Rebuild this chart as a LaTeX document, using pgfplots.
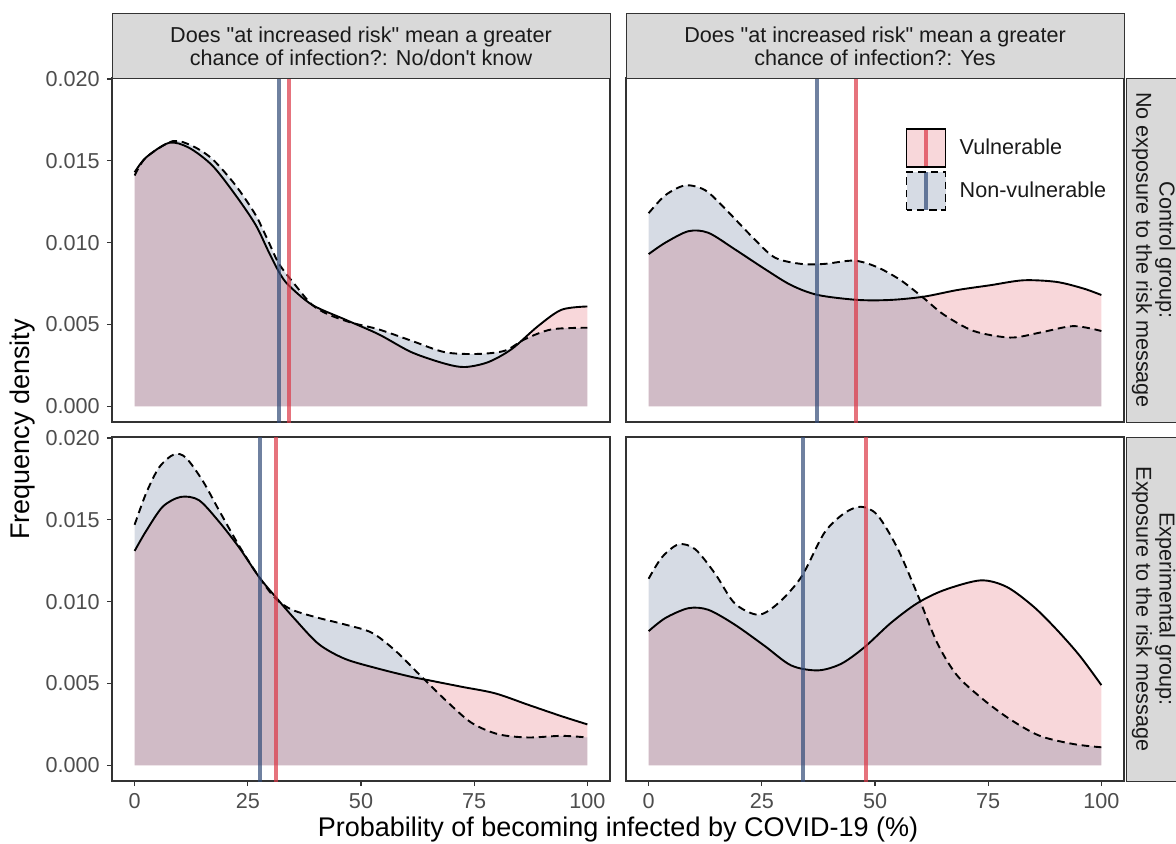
\documentclass[border=0pt]{standalone}
\usepackage{fontspec}
\setmainfont{Liberation Sans}
\usepackage{pgfplots}
\pgfplotsset{compat=1.18}
\definecolor{vcol}{HTML}{DC3746}
\definecolor{ncol}{HTML}{324B78}
\definecolor{framec}{HTML}{333333}
\definecolor{tickc}{HTML}{4D4D4D}
\definecolor{stripc}{HTML}{D9D9D9}
\definecolor{stript}{HTML}{1A1A1A}

\pgfplotsset{
  panel/.style={
    scale only axis, width=249pt, height=172pt,
    xmin=-5, xmax=105, ymin=-0.00096, ymax=0.02006,
    axis line style={draw=framec, line width=0.6pt},
    tick style={draw=framec, line width=0.6pt},
    tick align=outside, major tick length=2.6pt,
    xtick={0,25,50,75,100}, xticklabels={0,25,50,75,100},
    ytick={0,0.005,0.01,0.015,0.02},
    yticklabels={0.000,0.005,0.010,0.015,0.020},
    scaled y ticks=false, scaled x ticks=false,
    xtick pos=left, ytick pos=left,
    tick label style={font=\fontsize{10.8}{12}\selectfont, text=tickc},
    anchor=south west,
  },
  vfill/.style={draw=none, fill=vcol, fill opacity=0.2, smooth, forget plot},
  nfill/.style={draw=none, fill=ncol, fill opacity=0.2, smooth, forget plot},
  vcurve/.style={black, line width=0.95pt, smooth, forget plot},
  ncurve/.style={black, line width=0.95pt, smooth, dash pattern=on 3.8pt off 2.4pt, forget plot},
  vmean/.style={vcol, opacity=0.7, line width=2pt, forget plot},
  nmean/.style={ncol, opacity=0.7, line width=2pt, forget plot},
}

\begin{document}
\begin{tikzpicture}
\useasboundingbox (0,0) rectangle (588pt,421.5pt);

% ---------- top-left ----------
\begin{axis}[panel, at={(56pt,210.5pt)}, xtick=\empty]
\addplot[vfill] coordinates {(0,0.0143) (2.5,0.0152) (7.6,0.0161) (12,0.0158) (17.2,0.0147) (22.3,0.0129) (26.7,0.0111) (29.5,0.0095) (31.9,0.0082) (34,0.0074) (39.2,0.0062) (46.5,0.0053) (53.9,0.0044) (61.2,0.0033) (68.6,0.0026) (73,0.0024) (78.1,0.0027) (83.3,0.0035) (89.1,0.0049) (94.3,0.0059) (100,0.0061)} \closedcycle;
\addplot[nfill] coordinates {(0,0.0141) (2.5,0.0152) (8.4,0.0162) (12.8,0.0159) (17.2,0.0151) (22.3,0.0135) (26.7,0.0117) (29.5,0.0101) (31.9,0.0087) (35.5,0.0074) (39.2,0.0062) (42.9,0.0056) (48,0.0051) (53.9,0.0047) (61.2,0.0040) (68.6,0.0033) (75.9,0.0032) (81.8,0.0034) (86.2,0.0041) (92.1,0.0047) (100,0.0048)} \closedcycle;
\addplot[vcurve] coordinates {(0,0.0143) (2.5,0.0152) (7.6,0.0161) (12,0.0158) (17.2,0.0147) (22.3,0.0129) (26.7,0.0111) (29.5,0.0095) (31.9,0.0082) (34,0.0074) (39.2,0.0062) (46.5,0.0053) (53.9,0.0044) (61.2,0.0033) (68.6,0.0026) (73,0.0024) (78.1,0.0027) (83.3,0.0035) (89.1,0.0049) (94.3,0.0059) (100,0.0061)};
\addplot[ncurve] coordinates {(0,0.0141) (2.5,0.0152) (8.4,0.0162) (12.8,0.0159) (17.2,0.0151) (22.3,0.0135) (26.7,0.0117) (29.5,0.0101) (31.9,0.0087) (35.5,0.0074) (39.2,0.0062) (42.9,0.0056) (48,0.0051) (53.9,0.0047) (61.2,0.0040) (68.6,0.0033) (75.9,0.0032) (81.8,0.0034) (86.2,0.0041) (92.1,0.0047) (100,0.0048)};
\addplot[nmean] coordinates {(31.9,-0.002) (31.9,0.022)};
\addplot[vmean] coordinates {(34.1,-0.002) (34.1,0.022)};
\end{axis}

% ---------- top-right ----------
\begin{axis}[panel, at={(313pt,210.5pt)}, xtick=\empty, ytick=\empty,
  legend cell align=left,
  legend style={at={(axis description cs:0.562,0.8576)}, anchor=north west,
    draw=none, fill=none, inner sep=0pt, outer sep=0pt, row sep=0.4pt,
    nodes={inner sep=0pt, outer sep=0pt},
    font=\fontsize{10.8}{12}\selectfont, text=stript}]
\addlegendimage{legend image code/.code={
  \fill[vcol!20!white, draw=none] (0pt,-9.5pt) rectangle (19.5pt,9.5pt);
  \draw[vcol, opacity=0.7, line width=2pt] (9.75pt,-9.5pt) -- (9.75pt,9.5pt);
  \draw[black, line width=0.8pt, fill=none] (0pt,-9.5pt) rectangle (19.5pt,9.5pt);
  \path[draw=none, fill=none] (0pt,-9.5pt) rectangle (26.5pt,9.5pt);}}
\addlegendentry{Vulnerable}
\addlegendimage{legend image code/.code={
  \fill[ncol!20!white, draw=none] (0pt,-9.5pt) rectangle (19.5pt,9.5pt);
  \draw[ncol, opacity=0.7, line width=2pt] (9.75pt,-9.5pt) -- (9.75pt,9.5pt);
  \draw[black, line width=0.8pt, fill=none, dash pattern=on 3.8pt off 2.4pt] (0pt,-9.5pt) rectangle (19.5pt,9.5pt);
  \path[draw=none, fill=none] (0pt,-9.5pt) rectangle (26.5pt,9.5pt);}}
\addlegendentry{Non-vulnerable}
\addplot[vfill] coordinates {(0,0.0093) (3.7,0.0100) (8.8,0.0107) (13.2,0.0106) (19,0.0096) (25.6,0.0084) (31.5,0.0074) (37.4,0.0068) (46.2,0.0065) (53.5,0.0065) (60.8,0.0067) (68.1,0.0071) (75.5,0.0074) (82.8,0.0077) (90.1,0.0076) (96,0.0072) (100,0.0068)} \closedcycle;
\addplot[nfill] coordinates {(0,0.0118) (3.7,0.0129) (8.1,0.0135) (12.5,0.0132) (16.8,0.0121) (22.7,0.0104) (27.8,0.0091) (33.7,0.0087) (38.8,0.0087) (45.4,0.0089) (50.5,0.0085) (55.7,0.0077) (60.8,0.0066) (65.2,0.0056) (71.8,0.0046) (79.9,0.0042) (86.4,0.0045) (93.8,0.0049) (100,0.0046)} \closedcycle;
\addplot[vcurve] coordinates {(0,0.0093) (3.7,0.0100) (8.8,0.0107) (13.2,0.0106) (19,0.0096) (25.6,0.0084) (31.5,0.0074) (37.4,0.0068) (46.2,0.0065) (53.5,0.0065) (60.8,0.0067) (68.1,0.0071) (75.5,0.0074) (82.8,0.0077) (90.1,0.0076) (96,0.0072) (100,0.0068)};
\addplot[ncurve] coordinates {(0,0.0118) (3.7,0.0129) (8.1,0.0135) (12.5,0.0132) (16.8,0.0121) (22.7,0.0104) (27.8,0.0091) (33.7,0.0087) (38.8,0.0087) (45.4,0.0089) (50.5,0.0085) (55.7,0.0077) (60.8,0.0066) (65.2,0.0056) (71.8,0.0046) (79.9,0.0042) (86.4,0.0045) (93.8,0.0049) (100,0.0046)};
\addplot[nmean] coordinates {(37.1,-0.002) (37.1,0.022)};
\addplot[vmean] coordinates {(45.9,-0.002) (45.9,0.022)};
\end{axis}

% ---------- bottom-left ----------
\begin{axis}[panel, at={(56pt,31pt)}]
\addplot[vfill] coordinates {(0,0.0131) (2.5,0.0143) (6.2,0.0158) (10.2,0.0164) (14.2,0.0162) (18.6,0.0149) (23.1,0.0133) (27.5,0.0115) (31.1,0.0103) (35.5,0.0089) (40.7,0.0074) (46.5,0.0065) (53.9,0.0059) (61.2,0.0054) (64.9,0.0052) (72.2,0.0048) (79.6,0.0044) (86.9,0.0037) (94.3,0.0030) (100,0.0025)} \closedcycle;
\addplot[nfill] coordinates {(0,0.0147) (2.5,0.0166) (5.4,0.0182) (8.7,0.0190) (11.3,0.0188) (15,0.0174) (18.6,0.0156) (23.1,0.0134) (27.5,0.0115) (31.1,0.0102) (34.8,0.0095) (40.7,0.0090) (46.5,0.0086) (52.4,0.0081) (57.6,0.0070) (62.7,0.0056) (68.6,0.0040) (74.4,0.0026) (80.3,0.0019) (86.9,0.0017) (94.3,0.0018) (100,0.0017)} \closedcycle;
\addplot[vcurve] coordinates {(0,0.0131) (2.5,0.0143) (6.2,0.0158) (10.2,0.0164) (14.2,0.0162) (18.6,0.0149) (23.1,0.0133) (27.5,0.0115) (31.1,0.0103) (35.5,0.0089) (40.7,0.0074) (46.5,0.0065) (53.9,0.0059) (61.2,0.0054) (64.9,0.0052) (72.2,0.0048) (79.6,0.0044) (86.9,0.0037) (94.3,0.0030) (100,0.0025)};
\addplot[ncurve] coordinates {(0,0.0147) (2.5,0.0166) (5.4,0.0182) (8.7,0.0190) (11.3,0.0188) (15,0.0174) (18.6,0.0156) (23.1,0.0134) (27.5,0.0115) (31.1,0.0102) (34.8,0.0095) (40.7,0.0090) (46.5,0.0086) (52.4,0.0081) (57.6,0.0070) (62.7,0.0056) (68.6,0.0040) (74.4,0.0026) (80.3,0.0019) (86.9,0.0017) (94.3,0.0018) (100,0.0017)};
\addplot[nmean] coordinates {(27.6,-0.002) (27.6,0.022)};
\addplot[vmean] coordinates {(31.3,-0.002) (31.3,0.022)};
\end{axis}

% ---------- bottom-right ----------
\begin{axis}[panel, at={(313pt,31pt)}, ytick=\empty]
\addplot[vfill] coordinates {(0,0.0082) (3.7,0.0090) (8.8,0.0096) (13.2,0.0095) (19,0.0086) (25.6,0.0073) (31.5,0.0061) (37.4,0.0058) (42.5,0.0062) (47.6,0.0072) (53.5,0.0087) (59.3,0.0099) (65.2,0.0107) (73.3,0.0113) (79.1,0.0109) (85,0.0097) (90.1,0.0083) (95.2,0.0067) (100,0.0049)} \closedcycle;
\addplot[nfill] coordinates {(0,0.0114) (2.9,0.0127) (6.6,0.0135) (10.3,0.0132) (14.7,0.0117) (19,0.0099) (24.2,0.0092) (28.6,0.0099) (33.7,0.0115) (38.8,0.0142) (43.2,0.0154) (46.9,0.0158) (50.5,0.0153) (54.9,0.0133) (59.3,0.0105) (63.7,0.0075) (68.1,0.0055) (74,0.0040) (79.9,0.0028) (86.4,0.0018) (93.8,0.0013) (100,0.0011)} \closedcycle;
\addplot[vcurve] coordinates {(0,0.0082) (3.7,0.0090) (8.8,0.0096) (13.2,0.0095) (19,0.0086) (25.6,0.0073) (31.5,0.0061) (37.4,0.0058) (42.5,0.0062) (47.6,0.0072) (53.5,0.0087) (59.3,0.0099) (65.2,0.0107) (73.3,0.0113) (79.1,0.0109) (85,0.0097) (90.1,0.0083) (95.2,0.0067) (100,0.0049)};
\addplot[ncurve] coordinates {(0,0.0114) (2.9,0.0127) (6.6,0.0135) (10.3,0.0132) (14.7,0.0117) (19,0.0099) (24.2,0.0092) (28.6,0.0099) (33.7,0.0115) (38.8,0.0142) (43.2,0.0154) (46.9,0.0158) (50.5,0.0153) (54.9,0.0133) (59.3,0.0105) (63.7,0.0075) (68.1,0.0055) (74,0.0040) (79.9,0.0028) (86.4,0.0018) (93.8,0.0013) (100,0.0011)};
\addplot[nmean] coordinates {(34.2,-0.002) (34.2,0.022)};
\addplot[vmean] coordinates {(48.0,-0.002) (48.0,0.022)};
\end{axis}

% ---------- strips ----------
\begin{scope}[every node/.style={font=\fontsize{10.8}{11.6}\selectfont, text=stript, align=center}]
\draw[framec, fill=stripc, line width=0.5pt] (56pt,382.5pt) rectangle (305pt,414.5pt);
\node at (180.5pt,398.5pt) {Does \textquotedbl at increased risk\textquotedbl\ mean a greater\\chance of infection?: No/don\textquotesingle t know};
\draw[framec, fill=stripc, line width=0.5pt] (313pt,382.5pt) rectangle (562pt,414.5pt);
\node at (437.5pt,398.5pt) {Does \textquotedbl at increased risk\textquotedbl\ mean a greater\\chance of infection?: Yes};
\draw[framec, fill=stripc, line width=0.5pt] (563pt,210.5pt) rectangle (600pt,382.5pt);
\node[rotate=-90] at (576.75pt,296.5pt) {Control group:\\No exposure to the risk message};
\draw[framec, fill=stripc, line width=0.5pt] (563pt,31pt) rectangle (600pt,203pt);
\node[rotate=-90] at (576.75pt,117pt) {Experimental group:\\Exposure to the risk message};
\end{scope}

% ---------- axis titles ----------
\node[font=\fontsize{13.5}{16}\selectfont, anchor=base] at (309pt,3.5pt) {Probability of becoming infected by COVID-19 (\%)};
\node[font=\fontsize{13.5}{16}\selectfont, rotate=90] at (11.5pt,206.75pt) {Frequency density};
\end{tikzpicture}
\end{document}
